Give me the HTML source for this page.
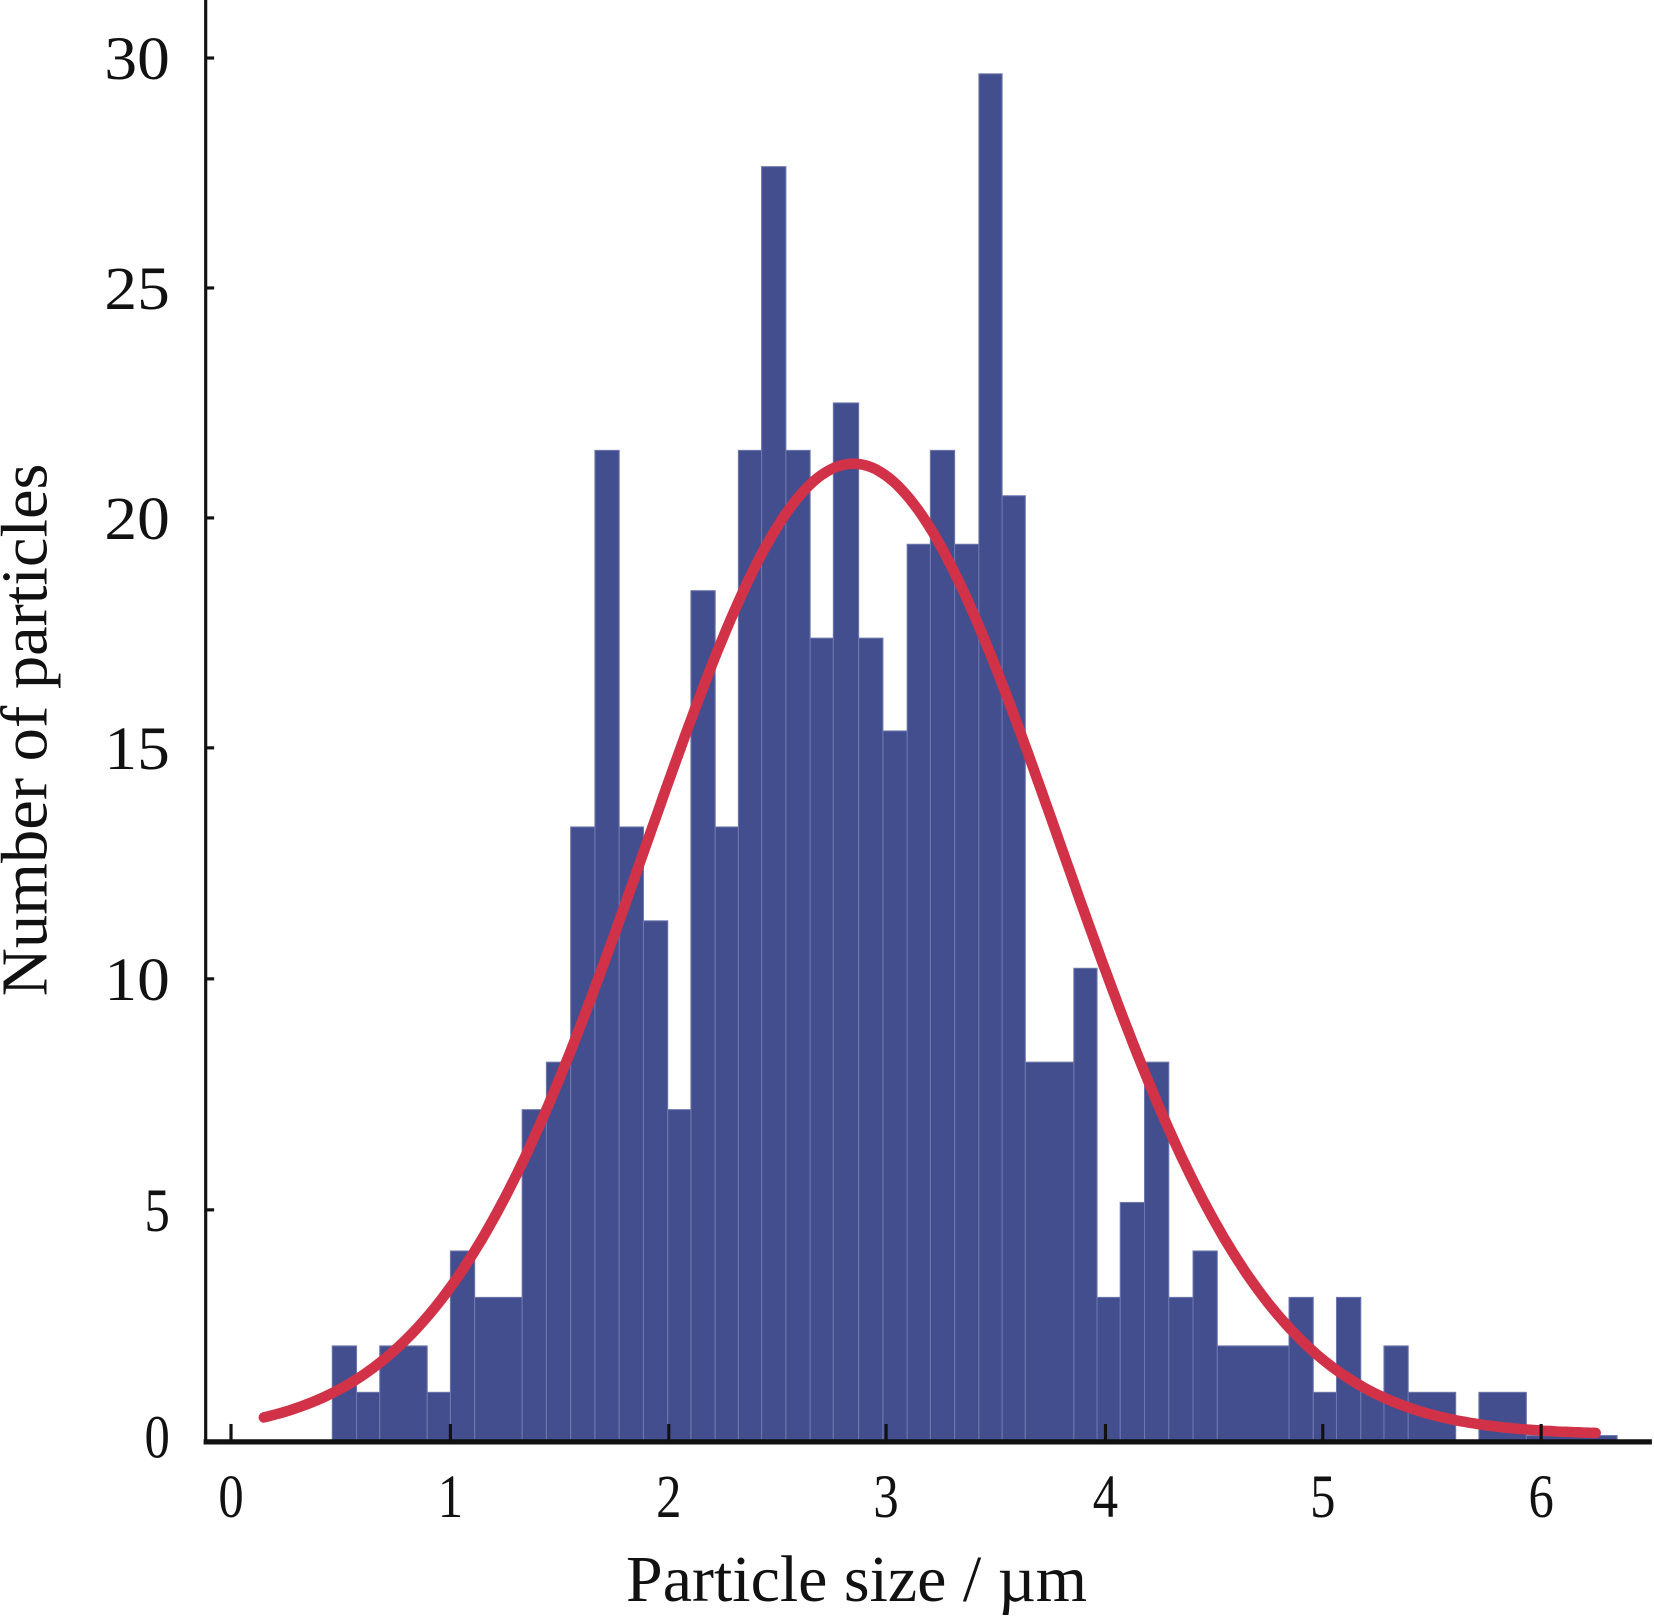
<!DOCTYPE html>
<html><head><meta charset="utf-8"><style>
html,body{margin:0;padding:0;background:#fff;}
svg{display:block;}
text{font-family:"Liberation Serif",serif;fill:#111;}
</style></head><body>
<svg id="s" width="1654" height="1617" viewBox="0 0 1568 1533" preserveAspectRatio="none" xmlns="http://www.w3.org/2000/svg">
<g id="bars" fill="#434e8f" stroke="#6e77ad" stroke-width="1"></g>
<path id="curve" fill="none" stroke="#d13248" stroke-width="10" stroke-linecap="round"/>
<line x1="195" y1="0" x2="195" y2="1369" stroke="#111" stroke-width="3"/>
<line x1="193" y1="1367" x2="1566" y2="1367" stroke="#111" stroke-width="5"/>
<g stroke="#111" stroke-width="3">
<line x1="219" y1="1350" x2="219" y2="1367"/><line x1="427" y1="1350" x2="427" y2="1367"/>
<line x1="634" y1="1350" x2="634" y2="1367"/><line x1="840" y1="1350" x2="840" y2="1367"/>
<line x1="1048" y1="1350" x2="1048" y2="1367"/><line x1="1254" y1="1350" x2="1254" y2="1367"/>
<line x1="1461" y1="1350" x2="1461" y2="1367"/>
<line x1="195" y1="55" x2="203" y2="55"/><line x1="195" y1="273" x2="203" y2="273"/>
<line x1="195" y1="491" x2="203" y2="491"/><line x1="195" y1="709" x2="203" y2="709"/>
<line x1="195" y1="928" x2="203" y2="928"/><line x1="195" y1="1147" x2="203" y2="1147"/>
</g>
<g font-size="58" text-anchor="end">
<text x="161" y="1382" textLength="24" lengthAdjust="spacingAndGlyphs">0</text>
<text x="161" y="1167" textLength="24" lengthAdjust="spacingAndGlyphs">5</text>
<text x="161" y="948" textLength="62" lengthAdjust="spacingAndGlyphs">10</text>
<text x="161" y="729" textLength="62" lengthAdjust="spacingAndGlyphs">15</text>
<text x="161" y="511" textLength="62" lengthAdjust="spacingAndGlyphs">20</text>
<text x="161" y="293" textLength="62" lengthAdjust="spacingAndGlyphs">25</text>
<text x="161" y="75" textLength="62" lengthAdjust="spacingAndGlyphs">30</text>
</g>
<g font-size="58" text-anchor="middle">
<text x="219" y="1438" textLength="24" lengthAdjust="spacingAndGlyphs">0</text>
<text x="427" y="1438" textLength="24" lengthAdjust="spacingAndGlyphs">1</text>
<text x="634" y="1438" textLength="24" lengthAdjust="spacingAndGlyphs">2</text>
<text x="840" y="1438" textLength="24" lengthAdjust="spacingAndGlyphs">3</text>
<text x="1048" y="1438" textLength="24" lengthAdjust="spacingAndGlyphs">4</text>
<text x="1254" y="1438" textLength="24" lengthAdjust="spacingAndGlyphs">5</text>
<text x="1461" y="1438" textLength="24" lengthAdjust="spacingAndGlyphs">6</text>
</g>
<text x="812" y="1518" font-size="62" text-anchor="middle" textLength="437" lengthAdjust="spacingAndGlyphs">Particle size / µm</text>
<text transform="translate(44,692) rotate(-90)" font-size="62" text-anchor="middle" textLength="505" lengthAdjust="spacingAndGlyphs">Number of particles</text>
</svg>
<script>
var B=[[315,338,1276],[338,360,1320],[360,405,1276],[405,427,1320],[427,450,1186],[450,495,1230],
[495,518,1052],[518,541,1007],[541,564,784],[564,587,427],[587,610,784],[610,633,873],[633,655,1052],
[655,678,560],[678,700,784],[700,722,427],[722,745,158],[745,768,427],[768,790,605],[790,814,382],
[814,837,605],[837,860,693],[860,882,516],[882,905,427],[905,928,516],[928,950,70],[950,972,470],
[972,1018,1007],[1018,1040,918],[1040,1062,1230],[1062,1085,1140],[1085,1108,1007],[1108,1131,1230],
[1131,1154,1186],[1154,1222,1276],[1222,1245,1230],[1245,1267,1320],[1267,1290,1230],[1290,1312,1320],
[1312,1335,1276],[1335,1380,1320],[1402,1447,1320],[1447,1533,1361]];
var g=document.getElementById('bars'),h='';
B.forEach(function(b){h+='<rect x="'+b[0]+'" y="'+b[2]+'" width="'+(b[1]-b[0])+'" height="'+(1366-b[2])+'"/>';});
g.innerHTML=h;
var d='',mu=2.85,s=0.95,pk=21.2;
for(var u=0.15;u<=6.26;u+=0.02){var x=219+u*207,c=pk*Math.exp(-(u-mu)*(u-mu)/(2*s*s));var y=1366-c*43.7-6*(1-c/pk);d+=(d?'L':'M')+x.toFixed(1)+' '+y.toFixed(1);}
document.getElementById('curve').setAttribute('d',d);
</script>
</body></html>
